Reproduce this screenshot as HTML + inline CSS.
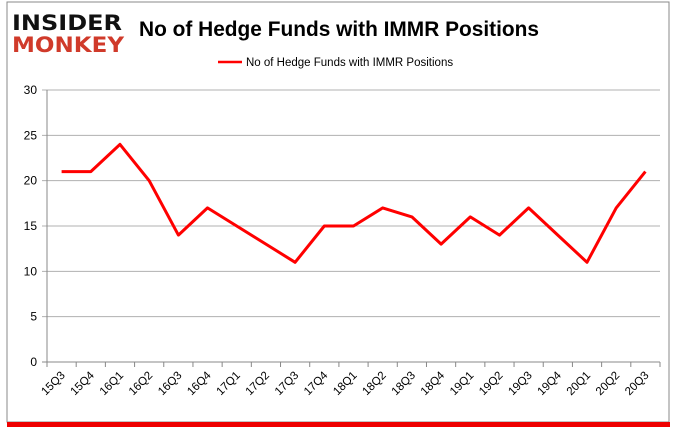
<!DOCTYPE html>
<html><head><meta charset="utf-8"><style>
body{margin:0;width:680px;height:433px;background:#fff;font-family:"Liberation Sans",sans-serif;overflow:hidden}
</style></head><body>
<svg width="680" height="433">
<rect x="8" y="5" width="660" height="418" fill="#f3b0b0"/>
<rect x="7" y="2" width="662" height="420" fill="#fff" stroke="#888" stroke-width="1"/>
<rect x="7" y="422" width="663" height="5" fill="#e00"/>
<g>
<text x="12" y="30" font-size="21" font-weight="bold" fill="#111" font-family="'DejaVu Sans',sans-serif" textLength="110" lengthAdjust="spacingAndGlyphs">INSIDER</text>
<text x="12" y="52" font-size="21" font-weight="bold" fill="#d03a2a" font-family="'DejaVu Sans',sans-serif" textLength="112" lengthAdjust="spacingAndGlyphs">MONKEY</text>
</g>
<text x="339" y="36" font-size="21" font-weight="bold" text-anchor="middle" fill="#000" textLength="400" lengthAdjust="spacingAndGlyphs">No of Hedge Funds with IMMR Positions</text>
<line x1="218" y1="62" x2="242" y2="62" stroke="#f00" stroke-width="2.5"/>
<text x="246" y="66" font-size="11.5" fill="#000">No of Hedge Funds with IMMR Positions</text>
<g id="grid"></g><g id="axes"></g>
<path id="line" fill="none" stroke="#f00" stroke-width="3" stroke-linejoin="round"/>
</svg>
<script>
const categories=["15Q3","15Q4","16Q1","16Q2","16Q3","16Q4","17Q1","17Q2","17Q3","17Q4","18Q1","18Q2","18Q3","18Q4","19Q1","19Q2","19Q3","19Q4","20Q1","20Q2","20Q3"];
const values=[21,21,24,20,14,17,15,13,11,15,15,17,16,13,16,14,17,14,11,17,21];
const yTicks=[0,5,10,15,20,25,30];
const L=47,R=660,T=90,B=362,yMax=30;
const step=(R-L)/categories.length;
const x=i=>L+step*(i+0.5);
const y=v=>B-(v/yMax)*(B-T);
const ns="http://www.w3.org/2000/svg";
const grid=document.getElementById('grid'),axes=document.getElementById('axes');
function mk(tag,attrs,parent){const e=document.createElementNS(ns,tag);for(const k in attrs)e.setAttribute(k,attrs[k]);parent.appendChild(e);return e;}
yTicks.forEach(t=>{
  const g=mk('line',{x1:L-5,x2:R,y1:y(t),y2:y(t),stroke:t===0?'#888':'#b0b0b0','stroke-width':1},grid);
  
  
  const tx=mk('text',{x:L-10,y:y(t)+4,'font-size':12,'text-anchor':'end',fill:'#000'},axes);
  tx.textContent=t;
  
  
});
const ya=mk('line',{x1:L,x2:L,y1:T,y2:B,stroke:'#888'},axes);


for(let i=0;i<=categories.length;i++){
  const tk=mk('line',{x1:L+step*i,x2:L+step*i,y1:B,y2:B+5,stroke:'#888'},axes);
  
  
}
categories.forEach((c,i)=>{
  const cx=x(i)+4,cy=B+14;
  const tx=mk('text',{x:cx,y:cy,'font-size':11.5,'text-anchor':'end',fill:'#000',transform:`rotate(-45 ${cx} ${cy})`},axes);
  tx.textContent=c;
  
  
});
document.getElementById('line').setAttribute('d',values.map((v,i)=>(i?'L':'M')+x(i).toFixed(1)+' '+y(v).toFixed(1)).join(' '));
</script>
</body></html>
